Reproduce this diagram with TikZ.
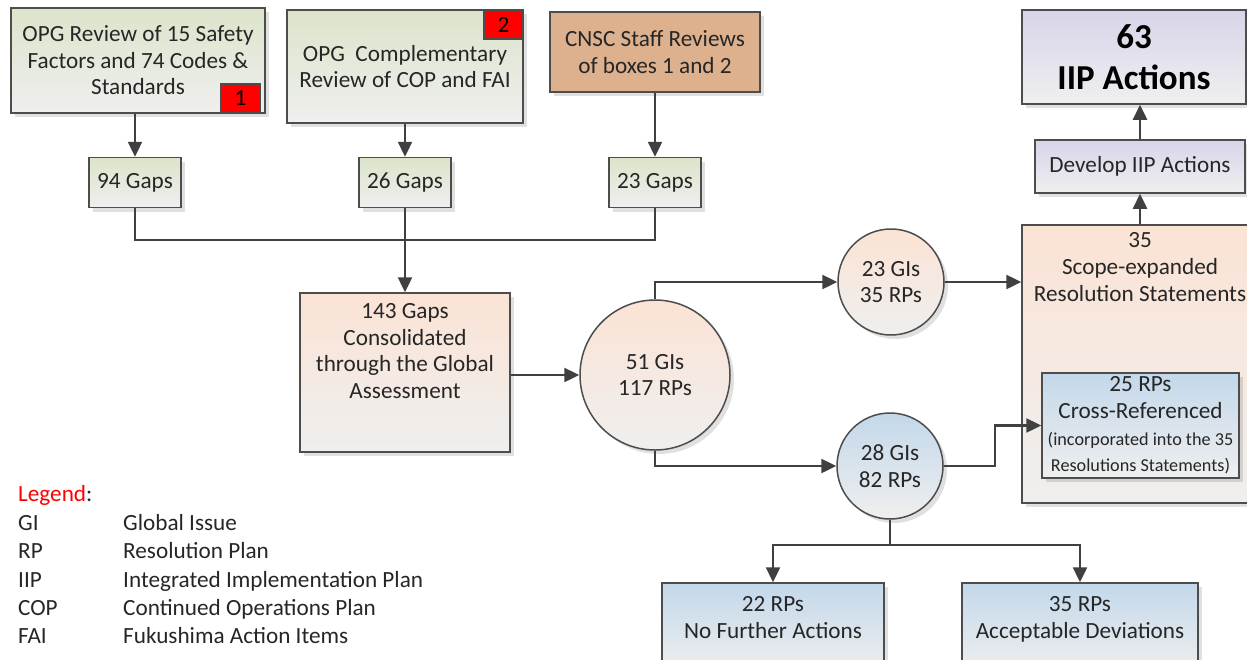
\documentclass[tikz,border=0pt]{standalone}
\usepackage{fontspec}
\setmainfont{Carlito}
\usetikzlibrary{positioning,arrows.meta,shadows}
\definecolor{edge}{HTML}{4D4D4D}
\definecolor{wire}{HTML}{404040}
\definecolor{ink}{HTML}{262626}
\definecolor{greentop}{HTML}{DCE4CA}
\definecolor{greybot}{HTML}{EFEFEF}
\definecolor{tan}{HTML}{DDB08E}
\definecolor{peach}{HTML}{FBE3D4}
\definecolor{bluetop}{HTML}{C3D8EA}
\definecolor{lavender}{HTML}{D9D4EA}
\newcommand{\smalltxt}{\fontsize{9.1}{11}\selectfont}

\begin{document}
\begin{tikzpicture}[
    x=.5pt, y=-.5pt, line width=1.2pt,
    font=\fontsize{11.6}{13.3}\selectfont, text=ink,
    >={Triangle[length=7.5pt,width=7pt]},
    flow/.style={draw=wire, ->},
    box/.style={draw=edge, line width=.75pt, align=center, inner sep=2pt,
      drop shadow={shadow xshift=2pt, shadow yshift=-2pt, fill=black, opacity=.12}},
    greenbox/.style={box, top color=greentop, bottom color=greybot},
    tanbox/.style={box, fill=tan},
    peachbox/.style={box, top color=peach, bottom color=greybot},
    bluebox/.style={box, top color=bluetop, bottom color=greybot},
    lavbox/.style={box, top color=lavender, bottom color=greybot},
    circ/.style={box, shape=circle, inner sep=0pt},
    tag/.style={draw=edge, line width=.75pt, fill=red, text=black,
      minimum width=19.5pt, minimum height=14.5pt, inner sep=0pt},
    legtxt/.style={anchor=west, inner sep=0pt, text height=8pt, text depth=2.5pt}]

  \useasboundingbox (0,0) rectangle (1247,659);
  \clip (0,0) rectangle (1247,659);

  % sources
  \node[greenbox, minimum width=127pt, minimum height=52.5pt] (src-1) at (138,60.5)
  {OPG Review of 15 Safety\\Factors and 74 Codes \&\\Standards};
  \node[tag, anchor=south east] (tag-1) at ([xshift=-2.5pt]src-1.south east) {1};
  \node[greenbox, minimum width=118pt, minimum height=56.5pt] (src-2) at (405,66.5)
  {OPG~ Complementary\\Review of COP and FAI};
  \node[tag, anchor=north east] (tag-2) at (src-2.north east) {2};
  \node[tanbox, minimum width=105pt, minimum height=40pt] (src-3) at (655,52)
  {CNSC Staff Reviews\\of boxes 1 and 2};

  \foreach \n/\x/\v in {1/135/94, 2/405/26, 3/655/23} {
    \node[greenbox, minimum width=46pt, minimum height=25pt] (gaps-\n) at (\x,182.5) {\v{} Gaps};
    \draw[flow] (gaps-\n.north |- src-\n.south) -- (gaps-\n.north);
  }

  \node[peachbox, minimum width=105pt, minimum height=79.5pt,
    label={[anchor=north, align=center, inner sep=5pt]north:{143 Gaps\\Consolidated\\through the Global\\Assessment}}]
  (consol) at (405,372.5) {};

  \coordinate (join) at (405,240);
  \draw[draw=wire] (gaps-1.south) |- (join) -| (gaps-3.south);
  \draw[flow] (gaps-2.south) -- (consol.north);

  % global issues
  \node[circ, top color=peach, bottom color=greybot, minimum size=75pt] (gi-all) at (655,375) {51 GIs\\117 RPs};
  \node[circ, top color=peach, bottom color=greybot, minimum size=53pt] (gi-exp) at (891,282) {23 GIs\\35 RPs};
  \node[circ, top color=bluetop, bottom color=greybot, minimum size=53pt] (gi-ref) at (890,466) {28 GIs\\82 RPs};

  \draw[flow] (consol.east |- gi-all) -- (gi-all.west);
  \draw[flow] (gi-all.north) |- (gi-exp.west);
  \draw[flow] (gi-all.south) |- (gi-ref.west);

  % resolution statements
  \node[peachbox, minimum width=118pt, minimum height=139pt,
    label={[anchor=north, align=center, inner sep=3.7pt]north:{35\\Scope-expanded\\Resolution Statements}}]
  (scope) at (1140,364) {};
  \node[bluebox, minimum width=98.5pt, minimum height=52.5pt] (xref) at (1140.5,425.5)
  {25 RPs\\Cross-Referenced\\{\smalltxt (incorporated into the 35}\\{\smalltxt Resolutions Statements)}};
  \node[lavbox, minimum width=105pt, minimum height=26.5pt] (dev) at (1140,166.5) {Develop IIP Actions};
  \node[lavbox, minimum width=112pt, minimum height=47pt, font=\fontsize{17.5}{20.5}\selectfont\bfseries,
    text=black] (iip) at (1134,57) {63\\IIP Actions};

  \draw[flow] (gi-exp.east) -- (scope.west |- gi-exp);
  \draw[flow] (gi-ref.east) -- ++(51,0) |- (xref.west);
  \draw[flow] (scope.north) -- (dev.south);
  \draw[flow] (dev.north) -- (dev.north |- iip.south);

  % remaining plans
  \node[bluebox, minimum width=111pt, minimum height=45pt,
    label={[anchor=north, align=center, inner sep=6.5pt]north:{22 RPs\\No Further Actions}}]
  (rp-none) at (773,628) {};
  \node[bluebox, minimum width=118pt, minimum height=45pt,
    label={[anchor=north, align=center, inner sep=6.5pt]north:{35 RPs\\Acceptable Deviations}}]
  (rp-dev) at (1080,628) {};

  \coordinate (split) at (890,545);
  \draw[draw=wire] (gi-ref.south) -- (split);
  \draw[flow] (split) -| (rp-none.north);
  \draw[flow] (split) -| (rp-dev.north);

  % legend
  \node[legtxt, text=red] (legend) at (17,496) {Legend\textcolor{ink}{:}};
  \foreach \ab/\txt[count=\i] in {GI/Global Issue, RP/Resolution Plan, IIP/Integrated Implementation Plan,
    COP/Continued Operations Plan, FAI/Fukushima Action Items} {
    \node[legtxt] (abbr-\i) at (17,497+28.2*\i) {\ab};
    \node[legtxt] (desc-\i) at (122,497+28.2*\i) {\txt};
  }
\end{tikzpicture}
\end{document}
